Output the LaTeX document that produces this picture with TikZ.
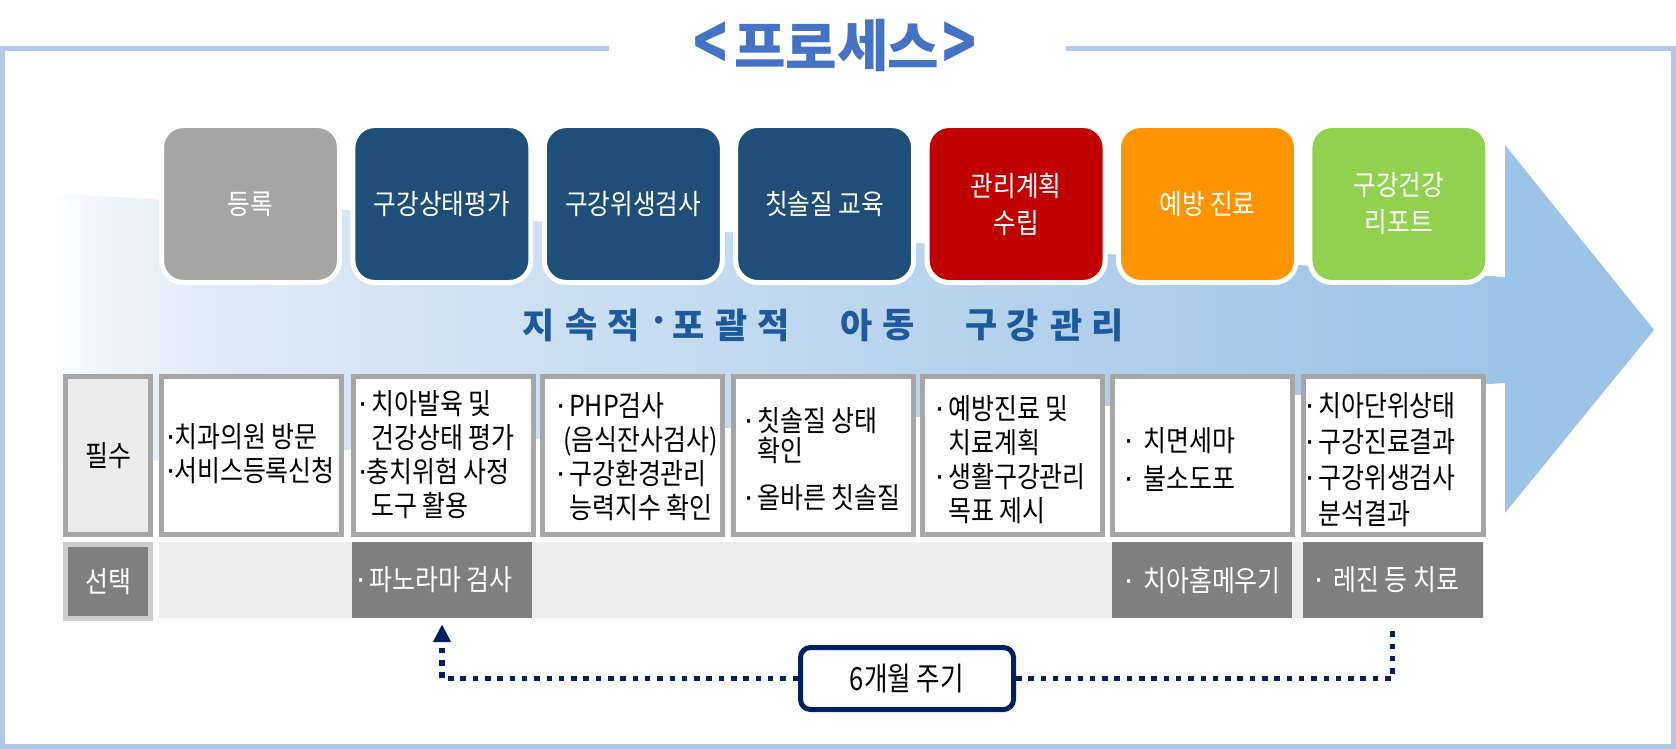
\documentclass[tikz,border=0pt]{standalone}
\usepackage{fontspec}
\setmainfont{Noto Sans CJK KR}
\newfontfamily\cf[FakeStretch=0.86]{Noto Sans CJK KR}
\newfontfamily\tf[FakeStretch=0.88]{Noto Sans CJK KR}
\newfontfamily\cyf[FakeStretch=0.8]{Noto Sans CJK KR}
\newfontfamily\blk{Noto Sans CJK KR Black}
\newfontfamily\dv{DejaVu Sans}
\usetikzlibrary{arrows.meta,shadows}

\definecolor{frameblue}{HTML}{B4C7E7}
\definecolor{titleblue}{HTML}{4472C4}
\definecolor{navyb}{HTML}{1F4E79}
\definecolor{redb}{HTML}{C00000}
\definecolor{orangeb}{HTML}{FF9300}
\definecolor{greenb}{HTML}{92D050}
\definecolor{grayb}{HTML}{A5A5A5}
\definecolor{cellborder}{HTML}{A6A6A6}
\definecolor{labelfill}{HTML}{EBEBEB}
\definecolor{band}{HTML}{EDEDED}
\definecolor{darkcell}{HTML}{7F7F7F}
\definecolor{navyline}{HTML}{002060}
\definecolor{midtext}{HTML}{1D5A9B}
\definecolor{ar1}{HTML}{EEF4FB}
\definecolor{ar2}{HTML}{DEEAF6}
\definecolor{ar3}{HTML}{C0D8EF}
\definecolor{ar4}{HTML}{9DC3E6}

\pgfdeclarehorizontalshading{arrowfade}{100bp}{color(0bp)=(white); color(25bp)=(white); color(27bp)=(ar1); color(31bp)=(ar2); color(50bp)=(ar3); color(75bp)=(ar4); color(100bp)=(ar4)}

\newcommand\bu{\makebox[13pt][l]{\dv ·}}
\newcommand\bun{\makebox[8pt][l]{\dv ·}}
\newcommand\bw{\makebox[19pt][l]{\dv ·}}
\newcommand\ind{\hspace*{13pt}}

\begin{document}
\begin{tikzpicture}[x=1pt,y=-1pt,
  topbox/.style={rounded corners=22pt, draw=white, line width=5pt,
    minimum width=178pt, minimum height=157pt, inner sep=0pt, text=white,
    font=\tf\fontsize{28}{37}\selectfont, align=center,
    drop shadow={shadow xshift=1.5pt, shadow yshift=-2pt, opacity=0.2}},
  midch/.style={font=\blk\fontsize{35}{35}\selectfont, text=midtext, inner sep=0pt},
  titlech/.style={font=\blk\fontsize{56}{56}\selectfont, text=titleblue, inner sep=0pt},
  cellbox/.style={draw=cellborder, line width=5pt, fill=white,
    minimum width=180pt, minimum height=158pt, inner sep=0pt},
  labelbox/.style={line width=5pt, minimum width=85pt, inner sep=0pt,
    font=\cf\fontsize{29}{34}\selectfont},
  darkbox/.style={fill=darkcell, minimum width=180pt, minimum height=76pt, inner sep=0pt},
  celltext/.style={font=\cf\fontsize{29}{34}\selectfont, align=left, inner sep=0pt, anchor=west},
  cycbox/.style={draw=navyline, line width=5pt, fill=white, rounded corners=10pt,
    minimum width=213pt, minimum height=62pt, inner sep=0pt,
    font=\cyf\fontsize{32}{32}\selectfont},
  dotline/.style={navyline, line width=5.5pt, dash pattern=on 5.5pt off 6.8pt}
]
\useasboundingbox (0,0) rectangle (1676,749);

% frame
\draw[frameblue, line width=5pt] (609,48.5) -- (2.5,48.5) -- (2.5,746.5) -- (1673.5,746.5) -- (1673.5,48.5) -- (1066,48.5);

% title
\foreach \ch/\x [count=\i] in {\scalebox{1}[1.35]{<}/710.5,프/760.5,로/811,세/863,스/913.5,\scalebox{1}[1.35]{>}/959.5}
  \node[titlech] (ttl\i) at (\x,46) {\ch};

% big arrow
\shade[shading=arrowfade] (47,193) -- (1506,277) -- (1506,383) -- (47,467) -- cycle;
\fill[ar4] (1505,145) -- (1654,330) -- (1505,513) -- cycle;

% top process boxes
\node[topbox, fill=grayb] (b1) at (250.5,204) {등록};
\node[topbox, fill=navyb] (b2) at (441.9,204) {구강상태평가};
\node[topbox, fill=navyb] (b3) at (633.3,204) {구강위생검사};
\node[topbox, fill=navyb] (b4) at (824.7,204) {칫솔질 교육};
\node[topbox, fill=redb] (b5) at (1016.1,204) {관리계획\\수립};
\node[topbox, fill=orangeb] (b6) at (1207.5,204) {예방 진료};
\node[topbox, fill=greenb] (b7) at (1398.9,204) {구강건강\\리포트};

% middle caption
\foreach \ch/\x [count=\i] in {지/539,속/582,적/624,·/659,포/689,괄/732,적/774,아/857,동/899,구/982,강/1023,관/1067,리/1108}
  \node[midch] (mc\i) at (\x,325) {\ch};

% table: required row
\node[labelbox, draw=cellborder, fill=labelfill, minimum height=158pt] (req) at (108,455.5) {필수};
\node[cellbox] (c1) at (251.5,455.5) {};
\node[cellbox] (c2) at (443,455.5) {};
\node[cellbox] (c3) at (632,455.5) {};
\node[cellbox] (c4) at (823,455.5) {};
\node[cellbox] (c5) at (1012.5,455.5) {};
\node[cellbox] (c6) at (1202,455.5) {};
\node[cellbox] (c7) at (1393,455.5) {};

\node[celltext] (t1) at (166,453.5) {\bun 치과의원 방문\\\bun 서비스등록신청};
\node[celltext] (t2) at (358,455) {\bu 치아발육 및\\\ind 건강상태 평가\\\bun 충치위험 사정\\\ind 도구 활용};
\node[celltext] (t3) at (556,457) {\bu PHP검사\\\hspace*{7pt}(음식잔사검사)\\\bu 구강환경관리\\\ind 능력지수 확인};
\node[celltext, font=\cf\fontsize{29}{30}\selectfont] (t4) at (744,459) {\bu 칫솔질 상태\\\ind 확인\\[17pt]\bu 올바른 칫솔질};
\node[celltext] (t5) at (935,460) {\bu 예방진료 및\\\ind 치료계획\\\bu 생활구강관리\\\ind 목표 제시};
\node[celltext] (t6) at (1124,459) {\bw 치면세마\\[4pt]\bw 불소도포};
\node[celltext, font=\cf\fontsize{29}{36}\selectfont] (t7) at (1305,460) {\bu 치아단위상태\\\bu 구강진료결과\\\bu 구강위생검사\\\ind 분석결과};

% table: optional row
\fill[band] (159,542) rectangle (1484,618);
\node[labelbox, draw=gray!40, fill=darkcell, text=white, minimum height=74pt] (opt) at (108,581.5) {선택};
\node[darkbox] (pano) at (442,580) {};
\node[darkbox] (hom) at (1202,580) {};
\node[darkbox] (resin) at (1392.5,580) {};
\node[celltext, text=white] (s1) at (356,580) {\bu 파노라마 검사};
\node[celltext, text=white] (s2) at (1124,580) {\bw 치아홈메우기};
\node[celltext, text=white] (s3) at (1314,580) {\bw 레진 등 치료};

% cycle
\node[cycbox] (cyc) at (907,678.5) {6개월 주기};
\coordinate (rtop) at (1392.5,631);
\draw[dotline, -{Triangle[length=18pt,width=17pt]}, shorten >=6pt] (cyc.west) -| (pano.south);
\draw[dotline] (cyc.east) -| (rtop);
\end{tikzpicture}
\end{document}
